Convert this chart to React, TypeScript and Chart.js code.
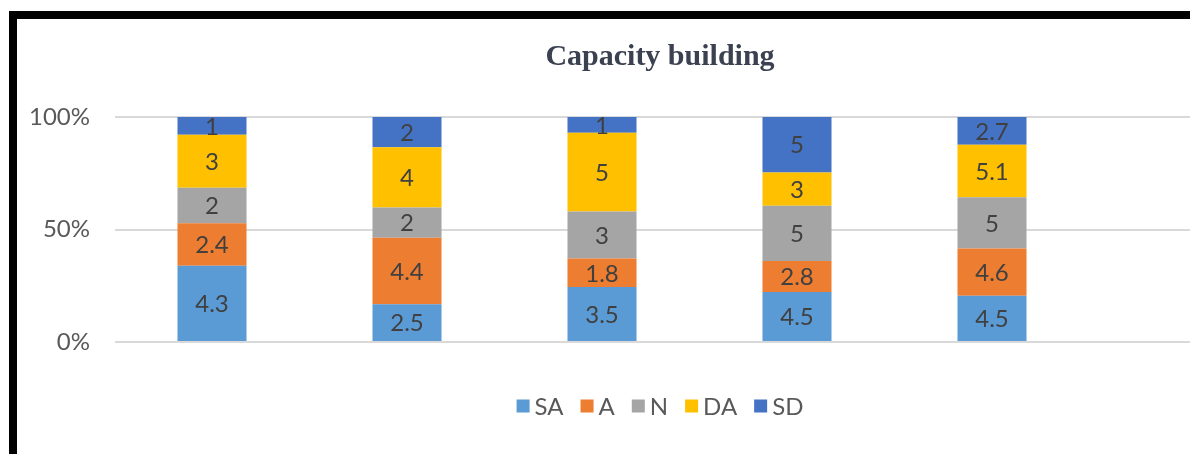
import React, { useEffect, useRef } from "react";
import { Chart, registerables } from "chart.js";

Chart.register(...registerables);

// ---- Data ----
const categories = ["1", "2", "3", "4", "5", ""];
const seriesNames = ["SA", "A", "N", "DA", "SD"];
const SA = [4.3, 2.5, 3.5, 4.5, 4.5];
const A = [2.4, 4.4, 1.8, 2.8, 4.6];
const N = [2, 2, 3, 5, 5];
const DA = [3, 4, 5, 3, 5.1];
const SD = [1, 2, 1, 5, 2.7];
const seriesColors = ["#5B9BD5", "#ED7D31", "#A5A5A5", "#FFC000", "#4472C4"];
const yTickValues = [0, 50, 100];
const chartTitle = "Capacity building";

const allSeries = [SA, A, N, DA, SD];

const totals = categories.map((_, i) =>
  allSeries.reduce((s, arr) => s + (arr[i] ?? 0), 0)
);
const toPercent = (arr: number[]) =>
  categories.map((_, i) => (arr[i] == null || !totals[i] ? null : (arr[i] / totals[i]) * 100));

const LABEL_FONT = "24px Lato, 'Open Sans', sans-serif";
const TITLE_FONT = "bold 30px 'Liberation Serif', 'Times New Roman', serif";

const valueLabelsPlugin = {
  id: "valueLabels",
  afterDatasetsDraw(chart: any) {
    const ctx = chart.ctx;
    ctx.save();
    ctx.font = LABEL_FONT;
    ctx.fillStyle = "#404040";
    ctx.textAlign = "center";
    ctx.textBaseline = "middle";
    chart.data.datasets.forEach((_: any, di: number) => {
      const meta = chart.getDatasetMeta(di);
      meta.data.forEach((el: any, i: number) => {
        const raw = allSeries[di][i];
        if (raw == null) return;
        const { x, y, base } = el.getProps(["x", "y", "base"], true);
        ctx.fillText(String(raw), x, (y + base) / 2 + 1);
      });
    });
    ctx.restore();
  },
};

const titleAndLegendPlugin = {
  id: "titleAndLegend",
  afterDraw(chart: any) {
    const ctx = chart.ctx;
    ctx.save();
    // Title, centred on the whole chart
    ctx.font = TITLE_FONT;
    ctx.fillStyle = "#3b4150";
    ctx.textAlign = "center";
    ctx.textBaseline = "middle";
    ctx.fillText(chartTitle, chart.width / 2, 38);

    // Legend
    ctx.font = LABEL_FONT;
    ctx.textAlign = "left";
    const box = 13;
    const gap = 5;
    const spacing = 17;
    const widths = seriesNames.map((n) => box + gap + ctx.measureText(n).width);
    const total = widths.reduce((a, b) => a + b, 0) + spacing * (seriesNames.length - 1);
    let x = chart.width / 2 - total / 2;
    const y = 387;
    seriesNames.forEach((name, i) => {
      ctx.fillStyle = seriesColors[i];
      ctx.fillRect(x, y - box / 2, box, box);
      ctx.fillStyle = "#595959";
      ctx.fillText(name, x + box + gap, y + 1);
      x += widths[i] + spacing;
    });
    ctx.restore();
  },
};

export default function App() {
  const canvasRef = useRef<HTMLCanvasElement | null>(null);

  useEffect(() => {
    let chart: Chart | null = null;
    let cancelled = false;
    const build = () => {
      if (cancelled || !canvasRef.current) return;
      chart = new Chart(canvasRef.current, {
        type: "bar",
        data: {
          labels: categories,
          datasets: seriesNames.map((name, i) => ({
            label: name,
            data: toPercent(allSeries[i]),
            backgroundColor: seriesColors[i],
            borderWidth: 0,
            barPercentage: 0.354,
            categoryPercentage: 1,
          })),
        },
        options: {
          responsive: false,
          maintainAspectRatio: false,
          animation: false,
          layout: { padding: { left: 0, right: 18.5, top: 98, bottom: 112 } },
          plugins: {
            legend: { display: false },
            tooltip: { enabled: false },
            title: { display: false },
          },
          scales: {
            x: {
              stacked: true,
              grid: { display: false, drawTicks: false },
              border: { display: false },
              ticks: { display: false },
              afterFit: (s: any) => {
                s.height = 0;
              },
            },
            y: {
              stacked: true,
              min: 0,
              max: 100,
              afterBuildTicks: (s: any) => {
                s.ticks = yTickValues.map((v) => ({ value: v }));
              },
              ticks: {
                callback: (v: any) => v + "%",
                padding: 24.5,
                color: "#595959",
                font: { family: "Lato, 'Open Sans', sans-serif", size: 24 },
              },
              grid: { color: "#d9d9d9", lineWidth: 2, drawTicks: false },
              border: { display: false },
              afterFit: (s: any) => {
                s.width = 97.5;
              },
            },
          },
        },
        plugins: [valueLabelsPlugin, titleAndLegendPlugin],
      } as any);
    };
    const fontsReady = (document as any).fonts
      ? Promise.all([
          (document as any).fonts.load("24px Lato"),
          (document as any).fonts.load("bold 30px 'Liberation Serif'"),
        ]).catch(() => null)
      : Promise.resolve(null);
    fontsReady.then(build);
    return () => {
      cancelled = true;
      if (chart) chart.destroy();
    };
  }, []);

  return (
    <div
      style={{
        position: "fixed",
        left: 0,
        top: 0,
        width: 1190,
        height: 454,
        overflow: "hidden",
        background: "#ffffff",
      }}
    >
      <div
        style={{
          position: "absolute",
          left: 9,
          top: 11,
          width: 1400,
          height: 600,
          borderTop: "8px solid #000",
          borderLeft: "8px solid #000",
          boxSizing: "border-box",
        }}
      />
      <canvas
        ref={canvasRef}
        width={1286}
        height={435}
        style={{ position: "absolute", left: 17, top: 19, width: 1286, height: 435 }}
      />
    </div>
  );
}
